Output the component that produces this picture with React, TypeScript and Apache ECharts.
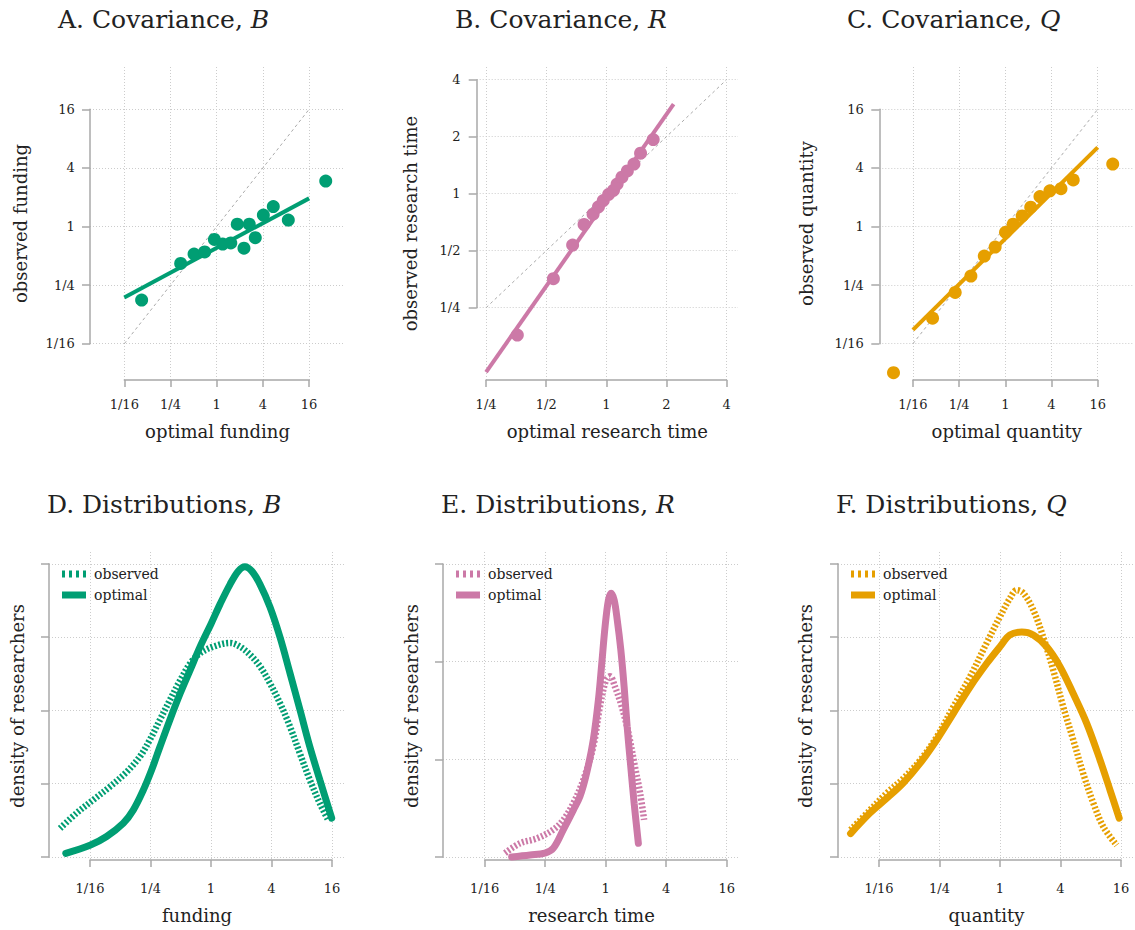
import React, { useEffect, useRef } from "react";
import * as echarts from "echarts";

const FONT = '"DejaVu Serif", "Liberation Serif", serif';
const TEXT = "#222222";
const AXIS = "#a8a8a8";
const GRIDC = "#cccccc";
const GREEN = "#009E73";
const PINK = "#CC79A7";
const ORANGE = "#E69F00";
const IDENT = "#aaaaaa";

// ---------- top row (values are log2 of the plotted quantity) ----------
const fundingOptimal = [-3.25, -1.56, -0.98, -0.52, -0.1, 0.26, 0.61, 0.89, 1.18, 1.41, 1.67, 2.02, 2.45, 3.1, 4.72];
const fundingObserved = [-2.51, -1.26, -0.94, -0.87, -0.44, -0.6, -0.56, 0.08, -0.74, 0.08, -0.38, 0.39, 0.68, 0.22, 1.55];
const fundingFitX = [-4, 4];
const fundingFitY = [-2.42, 0.96];
const fundingIdentity = [-4, 4];

const timeOptimal = [-1.48, -0.88, -0.56, -0.37, -0.22, -0.13, -0.05, 0.04, 0.12, 0.18, 0.26, 0.35, 0.46, 0.57, 0.78];
const timeObserved = [-2.48, -1.49, -0.9, -0.54, -0.36, -0.23, -0.12, -0.01, 0.06, 0.17, 0.29, 0.4, 0.52, 0.71, 0.95];
const timeFitX = [-2, 1.12];
const timeFitY = [-3.13, 1.57];
const timeIdentity = [-2, 2];

const quantityOptimal = [-4.84, -3.15, -2.17, -1.49, -0.91, -0.44, 0.01, 0.34, 0.73, 1.1, 1.5, 1.93, 2.41, 2.94, 4.65];
const quantityObserved = [-4.99, -3.13, -2.25, -1.69, -1.01, -0.7, -0.2, 0.08, 0.36, 0.66, 1.02, 1.22, 1.29, 1.59, 2.13];
const quantityFitX = [-4, 4];
const quantityFitY = [-3.53, 2.7];
const quantityIdentity = [-4, 4];

// ---------- bottom row: x = log2 value, y = density (tick units) ----------
const densFundingOptX = [-4.8, -4.0, -3.45, -2.9, -2.57, -2.24, -1.96, -1.69, -1.36, -1.02, -0.69, -0.36, 0.0, 0.3, 0.63, 0.9, 1.12, 1.35, 1.62, 1.95, 2.28, 2.61, 2.94, 3.27, 3.6, 3.99];
const densFundingOptY = [0.05, 0.16, 0.28, 0.46, 0.64, 0.91, 1.19, 1.5, 1.87, 2.23, 2.55, 2.87, 3.18, 3.45, 3.72, 3.9, 3.96, 3.9, 3.72, 3.41, 3.0, 2.51, 2.01, 1.5, 1.05, 0.53];
const densFundingObsX = [-4.99, -4.44, -3.89, -3.34, -2.79, -2.35, -2.02, -1.69, -1.36, -1.02, -0.69, -0.36, 0.08, 0.63, 0.96, 1.29, 1.62, 1.95, 2.28, 2.61, 2.94, 3.27, 3.6, 3.88];
const densFundingObsY = [0.39, 0.6, 0.78, 0.96, 1.16, 1.37, 1.6, 1.87, 2.14, 2.41, 2.64, 2.78, 2.87, 2.92, 2.87, 2.76, 2.6, 2.37, 2.1, 1.78, 1.41, 1.05, 0.73, 0.5];

const densTimeOptX = [-3.11, -2.5, -2.01, -1.73, -1.4, -1.07, -0.85, -0.63, -0.41, -0.24, -0.13, -0.02, 0.09, 0.18, 0.28, 0.38, 0.5, 0.61, 0.71, 0.83, 0.94, 1.08];
const densTimeOptY = [0.0, 0.02, 0.04, 0.09, 0.28, 0.48, 0.62, 0.86, 1.2, 1.61, 1.98, 2.36, 2.63, 2.7, 2.63, 2.43, 2.12, 1.74, 1.33, 0.92, 0.55, 0.14];
const densTimeObsX = [-3.33, -2.83, -2.28, -1.73, -1.4, -1.07, -0.74, -0.41, -0.19, 0.01, 0.14, 0.31, 0.53, 0.75, 0.97, 1.14, 1.27];
const densTimeObsY = [0.04, 0.14, 0.19, 0.28, 0.38, 0.55, 0.79, 1.13, 1.54, 1.81, 1.85, 1.74, 1.54, 1.27, 0.92, 0.65, 0.38];

const densQuantityOptX = [-4.94, -4.3, -3.75, -3.2, -2.64, -2.09, -1.54, -0.99, -0.44, 0.0, 0.33, 0.72, 1.1, 1.54, 1.98, 2.42, 2.87, 3.31, 3.64, 3.94];
const densQuantityOptY = [0.32, 0.6, 0.8, 1.01, 1.28, 1.6, 1.96, 2.32, 2.64, 2.87, 3.03, 3.07, 3.03, 2.87, 2.6, 2.23, 1.82, 1.32, 0.91, 0.53];
const densQuantityObsX = [-4.94, -4.3, -3.75, -3.2, -2.64, -2.09, -1.54, -0.99, -0.44, 0.0, 0.33, 0.55, 0.77, 1.1, 1.43, 1.76, 2.09, 2.42, 2.75, 3.09, 3.42, 3.86];
const densQuantityObsY = [0.37, 0.64, 0.87, 1.07, 1.32, 1.64, 2.05, 2.46, 2.92, 3.28, 3.53, 3.64, 3.6, 3.37, 3.0, 2.55, 2.05, 1.6, 1.14, 0.73, 0.41, 0.16];

// tick specs [min, max, step] (log2 units for value axes)
const ticksWide = [-4, 4, 2];
const ticksNarrow = [-2, 2, 1];
const densTicks4 = [0, 4, 1];
const densTicks3 = [0, 3, 1];

const legendLabels = ["observed", "optimal"];
const DOTTED_ICON = "path://M0 0h3v7H0z M7 0h3v7H7z M14 0h3v7h-3z M21 0h3v7h-3z";

const zip = (xs: number[], ys: number[]) => xs.map((x, i) => [x, ys[i]]);
const fmtPow2 = (v: number) => {
  const r = Math.round(v);
  return r >= 0 ? String(Math.pow(2, r)) : "1/" + Math.pow(2, -r);
};

type Panel = {
  key: string;
  title: string;
  italic: string;
  titleLeft: number;
  titleTop: number;
  rect: { left: number; top: number; width: number; height: number };
  xRange: number[];
  yRange: number[];
  xTicks: number[];
  yTicks: number[];
  axisX: number;
  axisY: number;
  yLabels: boolean;
  xName: string;
  yName: string;
  xNameGap: number;
  yNameGap: number;
  color: string;
  kind: "scatter" | "density";
  scatter?: { x: number[]; y: number[]; fitX: number[]; fitY: number[]; ident: number[] };
  density?: { obsX: number[]; obsY: number[]; optX: number[]; optY: number[] };
  legendLeft?: number;
};

const panels: Panel[] = [
  {
    key: "A", title: "A. Covariance, ", italic: "B", titleLeft: 58, titleTop: 7,
    rect: { left: 90, top: 67, width: 255, height: 313 },
    xRange: [-5.485, 5.554], yRange: [-5.239, 5.444], xTicks: ticksWide, yTicks: ticksWide,
    axisX: 88.3, axisY: 386, yLabels: true, xName: "optimal funding", yName: "observed funding",
    xNameGap: 42, yNameGap: 61, color: GREEN, kind: "scatter",
    scatter: { x: fundingOptimal, y: fundingObserved, fitX: fundingFitX, fitY: fundingFitY, ident: fundingIdentity },
  },
  {
    key: "B", title: "B. Covariance, ", italic: "R", titleLeft: 455, titleTop: 7,
    rect: { left: 476.7, top: 67, width: 261.3, height: 313 },
    xRange: [-2.156, 2.191], yRange: [-3.268, 2.223], xTicks: ticksNarrow, yTicks: ticksNarrow,
    axisX: 474, axisY: 386, yLabels: true, xName: "optimal research time", yName: "observed research time",
    xNameGap: 42, yNameGap: 57, color: PINK, kind: "scatter",
    scatter: { x: timeOptimal, y: timeObserved, fitX: timeFitX, fitY: timeFitY, ident: timeIdentity },
  },
  {
    key: "C", title: "C. Covariance, ", italic: "Q", titleLeft: 847, titleTop: 7,
    rect: { left: 879.3, top: 67, width: 255, height: 313 },
    xRange: [-5.455, 5.584], yRange: [-5.239, 5.444], xTicks: ticksWide, yTicks: ticksWide,
    axisX: 877.3, axisY: 386, yLabels: true, xName: "optimal quantity", yName: "observed quantity",
    xNameGap: 42, yNameGap: 64, color: ORANGE, kind: "scatter",
    scatter: { x: quantityOptimal, y: quantityObserved, fitX: quantityFitX, fitY: quantityFitY, ident: quantityIdentity },
  },
  {
    key: "D", title: "D. Distributions, ", italic: "B", titleLeft: 47, titleTop: 492,
    rect: { left: 49, top: 552, width: 296, height: 308 },
    xRange: [-5.355, 4.43], yRange: [-0.041, 4.161], xTicks: ticksWide, yTicks: densTicks4,
    axisX: 47.3, axisY: 870, yLabels: false, xName: "funding", yName: "density of researchers",
    xNameGap: 46, yNameGap: 23, color: GREEN, kind: "density", legendLeft: 62,
    density: { obsX: densFundingObsX, obsY: densFundingObsY, optX: densFundingOptX, optY: densFundingOptY },
  },
  {
    key: "E", title: "E. Distributions, ", italic: "R", titleLeft: 441, titleTop: 492,
    rect: { left: 443, top: 552, width: 297, height: 308 },
    xRange: [-5.379, 4.44], yRange: [-0.031, 3.122], xTicks: ticksWide, yTicks: densTicks3,
    axisX: 441, axisY: 870, yLabels: false, xName: "research time", yName: "density of researchers",
    xNameGap: 46, yNameGap: 23, color: PINK, kind: "density", legendLeft: 456,
    density: { obsX: densTimeObsX, obsY: densTimeObsY, optX: densTimeOptX, optY: densTimeOptY },
  },
  {
    key: "F", title: "F. Distributions, ", italic: "Q", titleLeft: 836, titleTop: 492,
    rect: { left: 838, top: 552, width: 297, height: 308 },
    xRange: [-5.355, 4.463], yRange: [-0.041, 4.161], xTicks: ticksWide, yTicks: densTicks4,
    axisX: 836, axisY: 870, yLabels: false, xName: "quantity", yName: "density of researchers",
    xNameGap: 46, yNameGap: 24, color: ORANGE, kind: "density", legendLeft: 851,
    density: { obsX: densQuantityObsX, obsY: densQuantityObsY, optX: densQuantityOptX, optY: densQuantityOptY },
  },
];

function buildOption() {
  const grid: any[] = [];
  const xAxis: any[] = [];
  const yAxis: any[] = [];
  const series: any[] = [];
  const title: any[] = [];
  const legend: any[] = [];

  const nameStyle = { fontFamily: FONT, fontSize: 18, color: TEXT };
  const labelStyle = { fontFamily: FONT, fontSize: 13, color: TEXT };
  const split = { show: true, lineStyle: { color: GRIDC, width: 1, type: [1, 2] } };
  const axLine = { show: true, lineStyle: { color: AXIS, width: 1.5 } };

  panels.forEach((p) => {
    const g0 = grid.length;
    const { left, top, width, height } = p.rect;
    const sx = (v: number) => left + ((v - p.xRange[0]) / (p.xRange[1] - p.xRange[0])) * width;
    const sy = (v: number) => top + ((p.yRange[1] - v) / (p.yRange[1] - p.yRange[0])) * height;
    const xl = sx(p.xTicks[0]);
    const xr = sx(p.xTicks[1]);
    const yt = sy(p.yTicks[1]);
    const yb = sy(p.yTicks[0]);

    grid.push({ left, top, width, height });
    grid.push({ left: xl, top, width: xr - xl, height });
    grid.push({ left, top: yt, width, height: yb - yt });

    // data grid axes (names only)
    xAxis.push({
      gridIndex: g0, type: "value", min: p.xRange[0], max: p.xRange[1],
      axisLine: { show: false }, axisTick: { show: false }, axisLabel: { show: false }, splitLine: { show: false },
      name: p.xName, nameLocation: "middle", nameGap: p.xNameGap, nameTextStyle: nameStyle,
    });
    yAxis.push({
      gridIndex: g0, type: "value", min: p.yRange[0], max: p.yRange[1],
      axisLine: { show: false }, axisTick: { show: false }, axisLabel: { show: false }, splitLine: { show: false },
      name: p.yName, nameLocation: "middle", nameGap: p.yNameGap, nameTextStyle: nameStyle,
    });

    // x range frame + vertical grid lines
    xAxis.push({
      gridIndex: g0 + 1, type: "value", min: p.xTicks[0], max: p.xTicks[1], interval: p.xTicks[2],
      position: "bottom", offset: p.axisY - (top + height),
      axisLine: axLine,
      axisTick: { show: true, length: 7, lineStyle: { color: AXIS, width: 1.5 } },
      axisLabel: { ...labelStyle, margin: 11.5, formatter: fmtPow2, showMinLabel: true, showMaxLabel: true },
      splitLine: split,
    });
    yAxis.push({ gridIndex: g0 + 1, type: "value", show: false, min: 0, max: 1 });

    // y range frame + horizontal grid lines
    xAxis.push({ gridIndex: g0 + 2, type: "value", show: false, min: 0, max: 1 });
    yAxis.push({
      gridIndex: g0 + 2, type: "value", min: p.yTicks[0], max: p.yTicks[1], interval: p.yTicks[2],
      position: "left", offset: left - p.axisX,
      axisLine: axLine,
      axisTick: { show: true, length: 8, lineStyle: { color: AXIS, width: 1.5 } },
      axisLabel: { show: p.yLabels, ...labelStyle, margin: 13.5, formatter: fmtPow2, showMinLabel: true, showMaxLabel: true },
      splitLine: split,
    });

    title.push({
      text: p.title + "{i|" + p.italic + "}",
      left: p.titleLeft, top: p.titleTop, padding: 0,
      textStyle: {
        fontFamily: FONT, fontSize: 25, fontWeight: "normal", color: TEXT,
        rich: { i: { fontFamily: FONT, fontSize: 25, fontStyle: "italic", color: TEXT } },
      },
    });

    if (p.kind === "scatter" && p.scatter) {
      const s = p.scatter;
      series.push({
        type: "line", xAxisIndex: g0, yAxisIndex: g0, symbol: "none", silent: true, z: 1,
        data: zip(s.ident, s.ident),
        lineStyle: { color: IDENT, width: 1, type: [3, 3] },
      });
      series.push({
        type: "line", xAxisIndex: g0, yAxisIndex: g0, symbol: "none", silent: true, z: 2,
        data: zip(s.fitX, s.fitY),
        lineStyle: { color: p.color, width: 4 },
      });
      series.push({
        type: "scatter", xAxisIndex: g0, yAxisIndex: g0, symbolSize: 13, z: 3,
        data: zip(s.x, s.y), itemStyle: { color: p.color, opacity: 1 },
      });
    } else if (p.density) {
      const d = p.density;
      const obsName = p.key + "|" + legendLabels[0];
      const optName = p.key + "|" + legendLabels[1];
      series.push({
        name: obsName, type: "line", xAxisIndex: g0, yAxisIndex: g0, symbol: "none", smooth: 0.35, z: 2,
        data: zip(d.obsX, d.obsY), color: p.color,
        lineStyle: { color: p.color, width: 6.5, type: [2, 2], cap: "butt" },
      });
      series.push({
        name: optName, type: "line", xAxisIndex: g0, yAxisIndex: g0, symbol: "none", smooth: 0.35, z: 3,
        data: zip(d.optX, d.optY), color: p.color,
        lineStyle: { color: p.color, width: 7, cap: "round" },
      });
      legend.push({
        data: [
          { name: obsName, icon: DOTTED_ICON },
          { name: optName, icon: "rect" },
        ],
        orient: "vertical", left: p.legendLeft, top: 567,
        itemWidth: 24, itemHeight: 7, itemGap: 7, padding: 0, selectedMode: false,
        formatter: (n: string) => n.split("|")[1],
        itemStyle: { color: p.color, borderWidth: 0 },
        textStyle: { fontFamily: FONT, fontSize: 14, color: TEXT, padding: [0, 0, 0, 3] },
      });
    }
  });

  return { animation: false, backgroundColor: "#ffffff", grid, xAxis, yAxis, series, title, legend };
}

export default function App() {
  const ref = useRef<HTMLDivElement>(null);
  useEffect(() => {
    if (!ref.current) return;
    const chart = echarts.init(ref.current, null, { renderer: "svg" });
    chart.setOption(buildOption() as any);
    return () => chart.dispose();
  }, []);
  return (
    <div
      ref={ref}
      style={{ position: "fixed", left: 0, top: 0, width: 1135, height: 930, background: "#fff" }}
    />
  );
}
